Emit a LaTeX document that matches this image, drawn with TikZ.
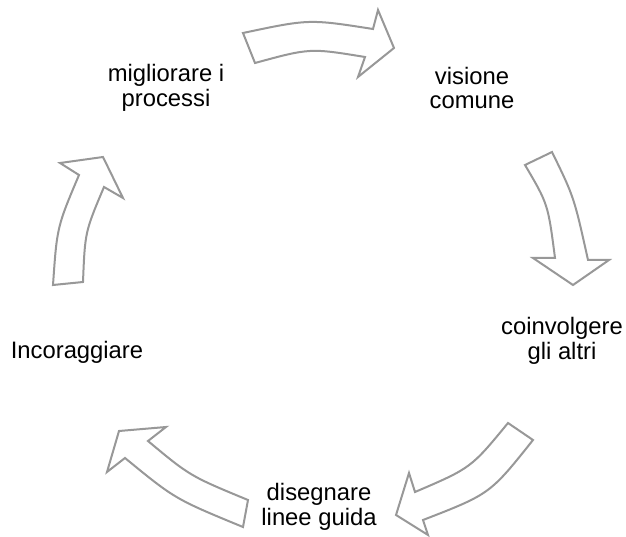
\documentclass[tikz,border=0pt]{standalone}
\usepackage{fontspec}
\setmainfont{Liberation Sans}
\begin{document}
\begin{tikzpicture}[x=1pt,y=-1pt,
  cyclearrow/.style={draw={rgb,255:red,152;green,152;blue,152},line width=2pt,fill=white,line join=miter},
  lbl/.style={align=center,font=\fontsize{23.8}{24.5}\selectfont,inner sep=0pt}]
\useasboundingbox (0,0) rectangle (626,537);
% arrows
\path[cyclearrow] (243,33) .. controls (309,19) .. (373,29) -- (378,10) -- (394,48) -- (358,77) -- (365,57) .. controls (310,48) .. (255,63) -- cycle;
\path[cyclearrow] (525,165) .. controls (548,204) .. (555,258) -- (533,258) -- (573,285) -- (609,260) -- (588,260) .. controls (574,197) .. (552,152) -- cycle;
\path[cyclearrow] (508,423) .. controls (471,468) .. (415,492) -- (409,473) -- (396,515) -- (428,535) -- (423,520) .. controls (490,494) .. (533,440) -- cycle;
\path[cyclearrow] (248,500) .. controls (190,476) .. (148,441) -- (166,427) -- (119,431) -- (107,472) -- (125,458) .. controls (175,499) .. (243,527) -- cycle;
\path[cyclearrow] (53,285) .. controls (57,227) .. (79,175) -- (60,163) -- (103,157) -- (123,198) -- (104,187) .. controls (85,232) .. (83,282) -- cycle;
% labels
\node[lbl] (vis) at (472,88) {visione\\comune};
\node[lbl] (coin) at (562,341) {coinvolgere\\gli altri};
\node[lbl] (dis) at (319,507) {disegnare\\linee guida};
\node[lbl] (inc) at (77,352) {Incoraggiare};
\node[lbl] (mig) at (166,88) {migliorare i\\processi};
\end{tikzpicture}
\end{document}
